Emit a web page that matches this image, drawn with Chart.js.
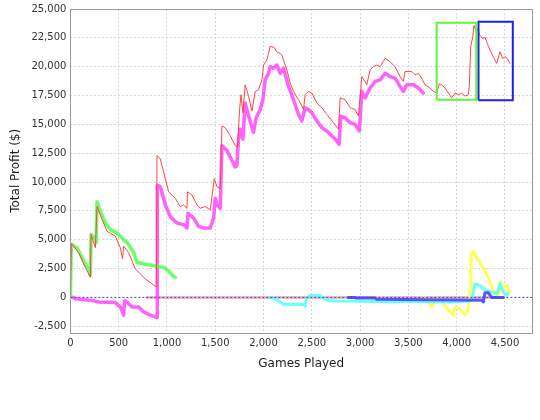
<!DOCTYPE html>
<html>
<head>
<meta charset="utf-8">
<script src="https://cdn.jsdelivr.net/npm/chart.js@4.4.1/dist/chart.umd.min.js"></script>
<style>
  html, body { margin: 0; padding: 0; background: #fff; }
  #wrap { width: 540px; height: 420px; }
</style>
</head>
<body>
<div id="wrap"><canvas id="dvCanvas" width="540" height="420"></canvas></div>
<script>
  'use strict';

  // [games played, total profit $]
  var redSeries = [[0,0],[10,4700],[86,3880],[155,2600],[207,1740],[214,5450],[259,4300],[276,7870],[328,6760],[380,5735],[466,5300],[517,4300],[541,3340],[551,4450],[603,3880],[672,2480],[776,1600],[879,970],[890,900],[897,12300],[931,12000],[965,10870],[1017,9160],[1086,8590],[1138,7875],[1172,8020],[1207,7730],[1213,9160],[1259,8880],[1311,8020],[1345,7730],[1397,7875],[1448,7590],[1466,8730],[1490,10300],[1518,9590],[1552,9440],[1569,14870],[1603,14720],[1655,14010],[1707,13160],[1731,13010],[1751,16150],[1766,17570],[1787,16000],[1810,18430],[1845,17440],[1880,16150],[1914,17860],[1948,18000],[1983,18860],[2000,20140],[2035,20570],[2069,21770],[2110,21660],[2138,21290],[2172,21140],[2190,21000],[2207,20570],[2242,19710],[2276,18570],[2310,17860],[2362,17140],[2397,16580],[2414,16290],[2431,17570],[2465,17860],[2500,17720],[2552,16860],[2604,16430],[2656,15860],[2724,15150],[2776,14580],[2793,17290],[2845,17140],[2897,16430],[2948,16290],[2983,15720],[3018,19150],[3069,18430],[3103,19710],[3138,20000],[3172,20140],[3207,20000],[3259,20720],[3310,20430],[3362,20000],[3414,19150],[3448,18720],[3466,19580],[3535,19580],[3569,19290],[3603,19430],[3638,19000],[3672,18430],[3724,18150],[3759,17860],[3793,17720],[3821,18520],[3845,18430],[3879,18150],[3914,17720],[3948,17290],[3983,17720],[4017,17570],[4052,17720],[4086,17440],[4120,17570],[4131,18290],[4145,21720],[4166,22570],[4179,23570],[4200,23140],[4214,23280],[4241,22710],[4269,22430],[4293,22570],[4317,22000],[4345,21430],[4379,20860],[4414,20290],[4448,21290],[4476,20720],[4500,20860],[4524,20720],[4552,20290]];
  var magentaSeries = [[24,0],[52,-110],[224,-260],[293,-400],[466,-450],[517,-830],[541,-1260],[551,-1540],[562,-260],[603,-540],[638,-830],[707,-830],[758,-1260],[828,-1540],[897,-1740],[900,9730],[931,9590],[983,8020],[1034,7020],[1103,6450],[1172,6310],[1207,6020],[1218,7300],[1276,6870],[1327,6160],[1379,6020],[1448,6020],[1483,6870],[1500,8590],[1518,8020],[1552,7730],[1569,13160],[1621,12730],[1673,11870],[1707,11300],[1724,11440],[1741,13720],[1759,14580],[1787,13720],[1810,16860],[1845,15720],[1896,14300],[1924,15580],[1966,16290],[1993,17140],[2017,18860],[2052,19430],[2069,20000],[2103,19860],[2138,20140],[2172,19430],[2207,19860],[2259,18290],[2310,17140],[2362,15860],[2397,15300],[2431,16430],[2465,16290],[2500,16000],[2552,15300],[2604,14720],[2672,14300],[2741,13720],[2783,13290],[2800,15720],[2845,15580],[2897,15150],[2948,15000],[2993,14440],[3018,17860],[3052,17290],[3103,18150],[3155,18720],[3207,18860],[3259,19430],[3310,19150],[3362,19000],[3414,18290],[3448,17860],[3483,18430],[3552,18430],[3603,18150],[3655,17720]];
  var greenSeries = [[0,0],[10,4590],[69,4300],[121,3450],[155,2880],[189,2450],[207,1940],[214,5450],[251,5160],[266,4730],[276,8300],[310,7450],[362,6450],[414,5880],[483,5590],[535,5160],[603,4590],[655,3880],[690,3020],[776,2880],[879,2740],[965,2590],[1017,2310],[1052,1940],[1086,1740]];
  var cyanSeries = [[2069,0],[2121,-110],[2172,-400],[2207,-600],[2310,-600],[2414,-620],[2431,-770],[2449,-30],[2483,170],[2586,170],[2621,-110],[2672,-260],[2759,-320],[3000,-340],[3345,-400],[3414,-340],[3931,-400],[4104,-340],[4155,-260],[4172,320],[4190,1170],[4241,1030],[4276,740],[4310,600],[4362,450],[4414,320],[4448,1170],[4483,450],[4517,170],[4534,320]];
  var blueSeries = [[2879,0],[2948,0],[2960,-60],[3155,-60],[3172,-170],[4259,-250],[4276,-400],[4293,400],[4328,400],[4362,0],[4483,0]];
  var yellowSeries = [[3655,0],[3707,-400],[3741,-830],[3776,-260],[3810,-110],[3862,-540],[3931,-1260],[3966,-1540],[3983,-830],[4034,-1000],[4086,-1540],[4120,-970],[4138,600],[4148,3740],[4172,4020],[4207,3450],[4241,3020],[4293,2310],[4328,1740],[4362,880],[4397,450],[4431,170],[4448,1310],[4483,880],[4517,1030],[4534,740],[4552,450]];
  var pinkSeries = [[793,0],[4480,0]];

  // highlighted ranges: [x from, x to, y from, y to]
  var greenBox = [3793, 4203, 17130, 23800];
  var blueBox = [4226, 4581, 17100, 23900];

  var xTicks = [0, 500, 1000, 1500, 2000, 2500, 3000, 3500, 4000, 4500];
  var yTicks = [-2500, 0, 2500, 5000, 7500, 10000, 12500, 15000, 17500, 20000, 22500, 25000];
  var xMax = 4780;
  var yMin = -3050;
  var yMax = 25000;

  function pts(arr) {
    return arr.map(function(p) { return {x: p[0], y: p[1]}; });
  }
  function boxPts(b) {
    return pts([[b[0],b[2]],[b[1],b[2]],[b[1],b[3]],[b[0],b[3]],[b[0],b[2]]]);
  }
  function line(data, color, width, order) {
    return {
      data: pts(data), showLine: true, borderColor: color, borderWidth: width,
      pointRadius: 0, fill: false, tension: 0, order: order,
      borderJoinStyle: 'round', borderCapStyle: 'round'
    };
  }
  function fmt(v) {
    return Number(v).toLocaleString('en-US');
  }

  var zeroLine = line([[0,0],[xMax,0]], '#3c3cff', 1, 0);
  zeroLine.borderDash = [2, 2];
  zeroLine.borderCapStyle = 'butt';

  var greenRect = { data: boxPts(greenBox), showLine: true, borderColor: '#5cf53a', borderWidth: 2, pointRadius: 0, fill: false, order: 1, borderJoinStyle: 'miter' };
  var blueRect = { data: boxPts(blueBox), showLine: true, borderColor: '#1f1fe8', borderWidth: 2, pointRadius: 0, fill: false, order: 1, borderJoinStyle: 'miter' };

  var plotBorder = {
    id: 'plotBorder',
    afterDraw: function(chart) {
      var a = chart.chartArea, ctx = chart.ctx;
      ctx.save();
      ctx.strokeStyle = '#9a9a9a';
      ctx.lineWidth = 1;
      ctx.strokeRect(Math.round(a.left) + 0.5, Math.round(a.top) + 0.5, Math.round(a.right - a.left), Math.round(a.bottom - a.top));
      ctx.restore();
    }
  };

  var tickFont = { family: 'DejaVu Sans', size: 10, lineHeight: 1 };
  var titleFont = { family: 'DejaVu Sans', size: 12 };

  var ctx = document.getElementById('dvCanvas').getContext('2d');
  var myChart = new Chart(ctx, {
    type: 'scatter',
    data: {
      datasets: [
        zeroLine,
        greenRect,
        blueRect,
        line(redSeries, '#ff4545', 1, 2),
        line(blueSeries, 'rgba(70,70,255,0.9)', 3, 3),
        line(cyanSeries, 'rgba(80,255,255,0.85)', 3, 4),
        line(yellowSeries, 'rgba(255,255,70,0.9)', 3, 5),
        line(greenSeries, 'rgba(80,255,80,0.85)', 3.5, 6),
        line(magentaSeries, 'rgba(255,80,255,0.9)', 3.5, 7),
        line(pinkSeries, 'rgba(245,170,160,0.8)', 3, 8)
      ]
    },
    options: {
      responsive: false,
      animation: false,
      layout: { padding: { left: 9, right: 8, top: 0, bottom: 49 } },
      plugins: { legend: { display: false }, tooltip: { enabled: false } },
      scales: {
        x: {
          type: 'linear', min: 0, max: xMax,
          afterBuildTicks: function(scale) {
            scale.ticks = xTicks.map(function(v) { return {value: v}; });
          },
          border: { display: false, dash: [2, 2] },
          grid: { color: '#d8d8d8', drawTicks: false },
          ticks: { padding: 6, color: '#333', font: tickFont, maxRotation: 0, autoSkip: false, callback: fmt },
          title: { display: true, text: 'Games Played', color: '#222', font: titleFont, padding: { top: 2, bottom: 0 } }
        },
        y: {
          type: 'linear', min: yMin, max: yMax,
          afterBuildTicks: function(scale) {
            scale.ticks = yTicks.map(function(v) { return {value: v}; });
          },
          border: { display: false, dash: [2, 2] },
          grid: { color: '#d8d8d8', drawTicks: false },
          ticks: { padding: 4, color: '#333', font: tickFont, autoSkip: false, callback: fmt },
          title: { display: true, text: 'Total Profit ($)', color: '#222', font: titleFont, padding: { top: 0, bottom: 4 } }
        }
      }
    },
    plugins: [plotBorder]
  });
</script>
</body>
</html>
